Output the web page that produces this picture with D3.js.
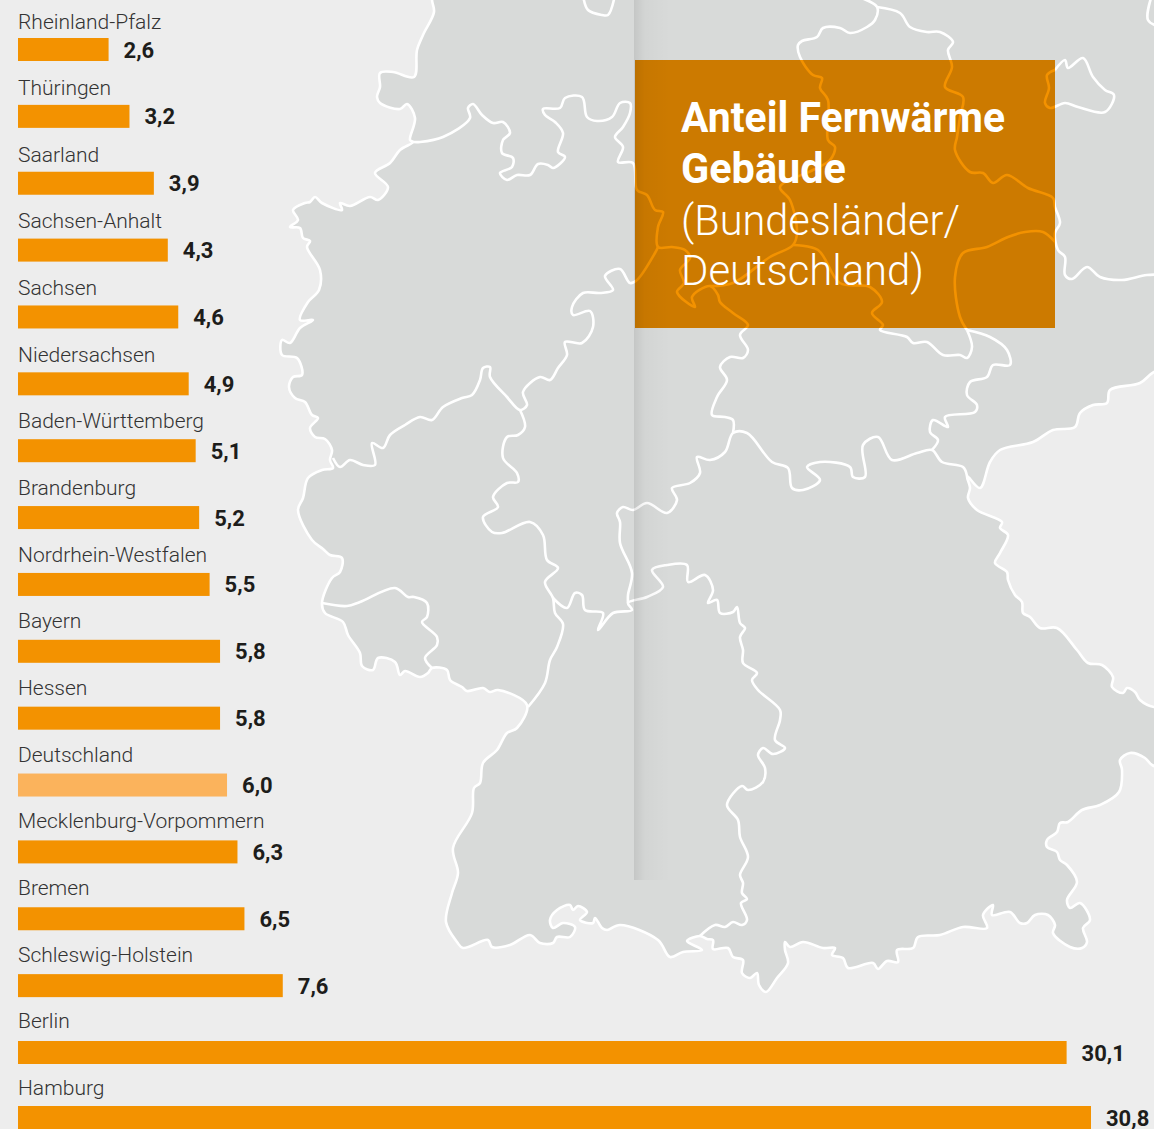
<!DOCTYPE html>
<html lang="de">
<head>
<meta charset="utf-8">
<title>Anteil Fernwärme Gebäude</title>
<script src="https://cdn.jsdelivr.net/npm/d3@7"></script>
<style>
  html, body { margin: 0; background: #ededed; }
  svg { display: block; font-family: Roboto, sans-serif; }
</style>
</head>
<body>
<svg id="chart" width="1154" height="1129"></svg>
<script>
const regions = ['Rheinland-Pfalz', 'Thüringen', 'Saarland', 'Sachsen-Anhalt', 'Sachsen', 'Niedersachsen',
  'Baden-Württemberg', 'Brandenburg', 'Nordrhein-Westfalen', 'Bayern', 'Hessen', 'Deutschland',
  'Mecklenburg-Vorpommern', 'Bremen', 'Schleswig-Holstein', 'Berlin', 'Hamburg'];
const shares = [2.6, 3.2, 3.9, 4.3, 4.6, 4.9, 5.1, 5.2, 5.5, 5.8, 5.8, 6.0, 6.3, 6.5, 7.6, 30.1, 30.8];
const titleLines = ['Anteil Fernwärme', 'Gebäude', '(Bundesländer/', 'Deutschland)'];

// map background
const countryOutline = [[432,-30],[432,0],[434,12],[423,35],[417,50],[414,77],[393,72],[380,73],[380,87],[377,97],[380,103],[400,109],[407,104],[415,118],[410,140],[413,142],
  [400,150],[390,163],[375,173],[388,187],[378,200],[370,197],[350,206],[340,203],[342,210],[322,203],[315,197],[310,202],[305,203],[293,210],[298,220],[290,227],[300,228],[303,238],[310,241],[307,247],[320,270],[319,290],[308,302],[300,320],[313,320],[300,328],[290,343],[282,340],[282,355],[297,358],[302,375],[293,377],[289,387],[295,398],[305,402],[312,415],[318,418],[310,428],[315,437],[325,439],[332,450],[330,460],[333,468],[322,470],[308,478],[303,498],
  [298,510],[312,540],[323,549],[330,555],[342,558],[340,572],[332,578],[322,603],[325,613],[343,622],[348,635],[360,653],[362,666],[373,670],[378,658],[395,662],[400,675],[405,671],[420,677],[428,673],[432,668],[447,670],[450,680],[462,687],[467,691],[483,688],[490,692],[498,690],[527,705],[517,728],[507,733],[497,750],[483,763],[480,783],[474,788],[472,813],[453,848],[458,873],[452,893],[446,922],[457,942],[463,948],[488,940],[492,947],[510,945],[530,935],[540,943],[553,943],[557,937],[570,937],[575,927],[563,923],[553,928],[550,920],[557,910],[570,905],[573,910],[578,906],[587,912],[580,920],[593,923],[595,918],[602,928],[607,930],[620,925],[658,940],[670,957],[683,952],[702,950],[687,941],[700,936],[707,939],[713,940],[713,949],[728,948],[733,957],[743,960],[742,973],[750,978],[757,973],[759,985],[766,992],[777,978],[788,963],[785,950],[785,942],[790,947],[803,942],[823,948],[835,948],[832,955],[843,958],[848,968],[873,963],[878,969],[887,961],[898,962],[897,950],[913,948],[918,937],[940,935],[963,927],[987,928],[983,915],[993,905],[992,915],[1010,912],[1020,923],[1027,923],[1035,915],[1048,915],[1055,925],[1053,933],[1070,947],[1082,948],[1087,942],[1083,928],[1090,920],[1080,903],[1070,908],[1067,900],[1077,882],[1067,865],[1060,860],[1057,852],[1047,847],[1047,840],[1057,832],[1060,823],[1068,822],[1082,810],[1100,805],[1119,792],[1122,770],[1120,760],[1130,753],[1145,758],[1152,765],[1175,770],[1175,705],[1154,707],[1140,700],[1135,692],[1127,688],[1123,693],[1112,687],[1113,677],[1102,665],[1088,663],[1077,650],[1057,628],[1040,628],[1030,617],[1023,613],[1022,602],[1015,595],[1008,580],[1007,572],[995,563],[1000,553],[1008,535],[1000,528],[1002,522],[977,510],[968,498],[970,488],[967,476],[980,488],[990,462],[1000,450],[1033,442],[1053,430],[1075,427],[1080,413],[1093,405],[1107,403],[1110,390],[1140,383],[1154,372],[1190,360],[1190,-30]];

const stateBorders = [
  // Niedersachsen / NRW, Niedersachsen / Hessen
  [[413,142],[420,142],[443,137],[470,118],[468,108],[473,104],[482,115],[493,123],[503,122],[510,133],[503,140],[502,153],[513,158],[512,167],[500,173],[507,180],[517,175],[530,175],[538,164],[548,165],[553,168],[565,157],[558,152],[563,133],[555,122],[545,115],[543,109],[560,108],[565,98],[582,97],[587,117],[597,121],[612,117],[620,103],[630,103],[630,113],[623,127],[615,137],[623,147],[618,162],[633,163],[637,190],[647,195],[655,210],[663,212],[658,227],[658,247],[672,247],[685,250],[690,258],[680,270],[684,283],[677,292],[695,307],[692,297],[710,286],[718,295],[720,302],[733,313],[748,325],[740,335],[748,350],[743,358],[730,357],[720,367],[727,380],[717,397],[712,415],[725,417],[733,420],[733,433]],
  // NRW / Hessen, NRW / Rheinland-Pfalz
  [[658,247],[655,253],[637,280],[630,283],[620,269],[605,276],[613,290],[600,293],[583,293],[572,307],[573,315],[590,311],[593,327],[582,343],[565,342],[567,355],[558,368],[550,380],[540,377],[523,392],[527,405],[520,410],[507,397],[490,377],[490,367],[483,368],[480,380],[472,395],[462,398],[443,407],[432,420],[420,417],[405,425],[390,435],[383,448],[372,443],[375,465],[363,465],[350,460],[340,467],[333,458]],
  // Rheinland-Pfalz / Hessen, Rheinland-Pfalz / Baden-Württemberg
  [[520,410],[525,427],[518,435],[507,437],[503,458],[517,473],[518,482],[507,483],[493,497],[498,507],[483,517],[492,532],[502,533],[530,522],[543,535],[547,560],[558,568],[545,582],[553,598],[555,613],[563,624],[557,647],[550,660],[545,683],[528,707]],
  // Saarland
  [[322,603],[347,606],[360,602],[395,588],[408,597],[414,597],[427,603],[427,617],[422,622],[437,637],[437,645],[425,658],[432,668]],
  // Hessen / Baden-Württemberg, Baden-Württemberg / Bayern
  [[553,598],[567,608],[575,593],[582,595],[585,610],[603,613],[598,630],[613,613],[632,610],[628,603],[647,597],[663,587],[652,570],[667,565],[687,565],[688,582],[705,575],[713,590],[708,603],[717,600],[720,613],[733,612],[737,607],[740,623],[745,628],[740,637],[743,650],[743,663],[757,673],[752,680],[758,690],[780,710],[780,720],[775,740],[785,748],[773,754],[763,748],[758,755],[765,768],[763,782],[748,790],[742,786],[727,805],[738,820],[740,837],[748,857],[740,875],[743,883],[742,893],[747,899],[741,903],[747,920],[742,925],[733,922],[725,927],[715,925],[700,936]],
  // Hessen / Bayern, Thüringen / Bayern, Sachsen / Bayern
  [[628,603],[628,595],[632,573],[620,543],[620,522],[617,513],[623,507],[633,510],[647,503],[667,513],[677,500],[672,488],[690,483],[700,473],[697,457],[710,460],[725,452],[733,433],[747,433],[772,462],[788,468],[792,488],[803,490],[820,480],[807,467],[820,462],[850,467],[853,477],[865,477],[863,445],[878,437],[892,460],[917,453],[932,450],[942,462],[963,467],[967,476]],
  // Niedersachsen / Sachsen-Anhalt
  [[710,286],[733,283],[770,257],[793,245],[797,233],[790,200],[780,187],[813,170],[830,160],[835,147],[828,140],[828,100],[820,88],[822,78],[813,75],[800,57],[798,45],[802,41],[817,37],[823,28],[840,28],[850,33],[867,27],[875,20],[877,7],[853,-5]],
  // Sachsen-Anhalt / Brandenburg, Sachsen / Brandenburg
  [[877,7],[900,13],[910,27],[927,32],[940,32],[953,42],[948,50],[952,67],[945,87],[963,97],[960,117],[957,137],[955,150],[970,172],[983,173],[993,183],[1007,175],[1028,188],[1053,198],[1055,207],[1060,223],[1055,233],[1058,250],[1065,257],[1065,275],[1072,279],[1087,267],[1100,277],[1122,280],[1147,275],[1170,275]],
  // Thüringen / Sachsen-Anhalt
  [[793,245],[818,250],[840,283],[870,287],[882,302],[872,313],[883,325],[880,330],[907,337],[913,343],[927,342],[943,355],[960,355],[967,358],[972,347],[967,330]],
  // Sachsen-Anhalt / Sachsen
  [[1055,242],[1043,232],[1025,232],[1008,237],[987,247],[963,253],[955,277],[960,317],[967,330]],
  // Thüringen / Sachsen
  [[967,330],[990,337],[1007,350],[1010,365],[993,365],[987,377],[970,382],[967,395],[977,405],[975,412],[945,417],[948,427],[933,420],[930,432],[938,440],[932,450]],
  // Berlin
  [[1055,70],[1065,60],[1068,68],[1083,58],[1093,77],[1105,90],[1114,95],[1105,112],[1078,107],[1065,103],[1050,108],[1045,103],[1049,88],[1047,75],[1055,70]],
  // Bremen, top edge
  [[583,-5],[588,10],[602,15],[608,15],[615,-5]],
  [[1152,-5],[1148,20],[1160,27]]
];

const width = 1154;
const height = 1129;
const barLeft = 18;
const barHeight = 23;
const barColor = '#f39200';
const totalColor = '#fbb35c';
const borderWidth = 2.6;

const svg = d3.select('#chart');
const defs = svg.append('defs');

const foldGradient = defs.append('linearGradient').attr('id', 'fold');
foldGradient.append('stop').attr('offset', 0).attr('stop-color', '#000').attr('stop-opacity', 0.09);
foldGradient.append('stop').attr('offset', 0.3).attr('stop-color', '#000').attr('stop-opacity', 0.025);
foldGradient.append('stop').attr('offset', 1).attr('stop-color', '#000').attr('stop-opacity', 0);

defs.append('clipPath').attr('id', 'box-clip')
  .append('rect').attr('x', 635).attr('y', 60).attr('width', 420).attr('height', 268);

svg.append('rect').attr('width', width).attr('height', height).attr('fill', '#ededed');

const mapLine = d3.line().curve(d3.curveCatmullRom.alpha(0.5));

svg.append('path')
  .attr('d', mapLine(countryOutline))
  .attr('fill', '#d8dad9')
  .attr('stroke', '#fff')
  .attr('stroke-width', borderWidth);

function drawBorders(parent, color) {
  parent.selectAll('path')
    .data(stateBorders)
    .join('path')
    .attr('d', (d) => mapLine(d))
    .attr('fill', 'none')
    .attr('stroke', color)
    .attr('stroke-width', borderWidth)
    .attr('stroke-linejoin', 'round');
}

drawBorders(svg.append('g'), '#fff');

// title box, the map shows through it in orange
svg.append('rect')
  .attr('x', 635).attr('y', 60).attr('width', 420).attr('height', 268)
  .attr('fill', '#cc7a00');
drawBorders(svg.append('g').attr('clip-path', 'url(#box-clip)'), '#f39200');

// page fold
svg.append('rect')
  .attr('x', 634).attr('y', 0).attr('width', 36).attr('height', 880)
  .attr('fill', 'url(#fold)');

const titleWidths = [324, 165, 279, 243];
const titleBaselines = [132, 183, 235, 285];
svg.append('g')
  .selectAll('text')
  .data(titleLines)
  .join('text')
  .attr('x', 681)
  .attr('y', (d, i) => titleBaselines[i])
  .attr('textLength', (d, i) => titleWidths[i])
  .attr('lengthAdjust', 'spacingAndGlyphs')
  .attr('font-size', 42)
  .attr('font-weight', (d, i) => (i < 2 ? 700 : 300))
  .attr('fill', '#fff')
  .text((d) => d);

// bars
const xScale = d3.scaleLinear().domain([0, 30.8]).range([barLeft, 1091]);
// the last row sits a little tighter in the picture
const yScale = d3.scaleLinear().domain([0, 15, 16]).range([38, 1041, 1106]);
const labelScale = d3.scalePoint().domain(regions).range([28.5, 1095]);

const bars = svg.append('g');

bars.selectAll('rect')
  .data(regions)
  .join('rect')
  .attr('x', barLeft)
  .attr('y', (d, i) => yScale(i))
  .attr('width', (d, i) => xScale(shares[i]) - barLeft)
  .attr('height', barHeight)
  .attr('fill', (d) => (d === 'Deutschland' ? totalColor : barColor));

svg.append('g')
  .selectAll('text')
  .data(regions)
  .join('text')
  .attr('x', barLeft)
  .attr('y', (d) => labelScale(d))
  .attr('font-size', 21)
  .attr('font-weight', 300)
  .attr('fill', '#333')
  .text((d) => d);

svg.append('g')
  .selectAll('text')
  .data(shares)
  .join('text')
  .attr('x', (d) => xScale(d) + 15)
  .attr('y', (d, i) => yScale(i) + 19.5)
  .attr('font-size', 22)
  .attr('font-weight', 700)
  .attr('fill', '#1d1d1b')
  .text((d) => d3.format('.1f')(d).replace('.', ','));
</script>
</body>
</html>
